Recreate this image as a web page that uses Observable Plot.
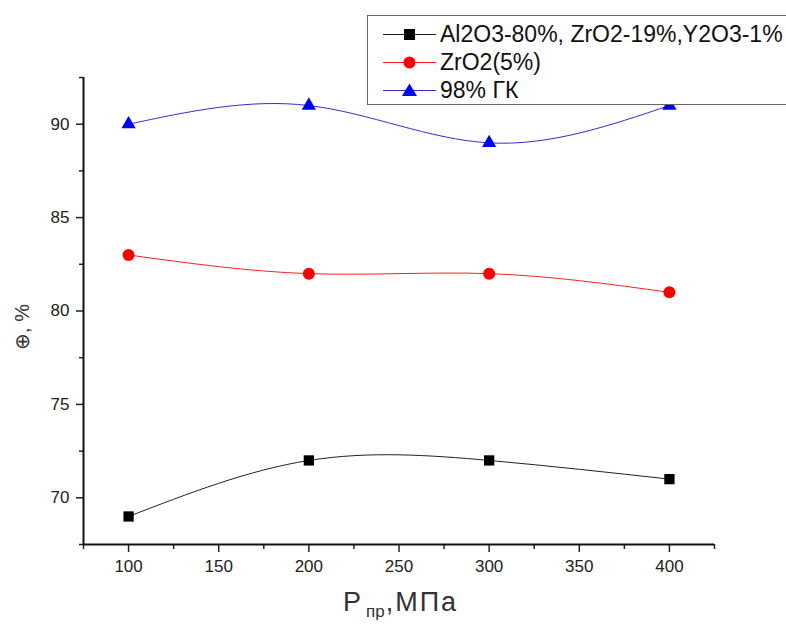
<!DOCTYPE html>
<html>
<head>
<meta charset="utf-8">
<script src="https://cdn.jsdelivr.net/npm/d3@7"></script>
<script src="https://cdn.jsdelivr.net/npm/@observablehq/plot@0.6"></script>
<style>
  html, body { margin: 0; padding: 0; background: #fff; overflow: hidden; }
  #wrap { position: relative; width: 786px; height: 626px; overflow: hidden; font-family: "Liberation Sans", Arial, sans-serif; }
  #legend { position: absolute; left: 367px; top: 15px; width: 440px; height: 88px; border: 1px solid #666; background: #fff; }
  .row { position: absolute; left: 0; height: 28px; display: flex; align-items: center; font-size: 23px; color: #111; white-space: nowrap; }
  .row svg { margin-left: 15px; margin-right: 4px; }
  #xlabel { position: absolute; top: 587px; left: 343px; white-space: nowrap; font-size: 27px; letter-spacing: 2px; color: #333; }
  #xlabel sub { font-size: 17px; vertical-align: -6px; margin-left: 3px; letter-spacing: 0; margin-right: 1px; }
</style>
</head>
<body>
<div id="wrap"></div>
<script>
const pressure = [100, 200, 300, 400];
const alumina = [69, 72, 72, 71];
const zro2 = [83, 82, 82, 81];
const gk = [90, 91, 89, 91];
const seriesNames = ["Al2O3-80%, ZrO2-19%,Y2O3-1%", "ZrO2(5%)", "98% ГК"];
const seriesValues = [alumina, zro2, gk];
const lineColors = ["#222222", "#ff2020", "#3030d0"];
const markColors = ["#000000", "#ff0000", "#0000ff"];
const symbols = ["square", "circle", "triangle"];
const xTicks = [100, 150, 200, 250, 300, 350, 400];
const xMinor = [75, 125, 175, 225, 275, 325, 375, 425];
const yTicks = [70, 75, 80, 85, 90];
const yMinor = [67.5, 72.5, 77.5, 82.5, 87.5, 92.5];
const xLabelMain = "P";
const xLabelSub = "пр";
const xLabelRest = ",МПа";
const yLabel = "⊕, %";

const rows = [];
seriesValues.forEach((vals, i) => {
  pressure.forEach((p, j) => rows.push({series: i, p, v: vals[j]}));
});

const marks = [];
seriesValues.forEach((vals, i) => {
  const d = rows.filter(r => r.series === i);
  marks.push(Plot.line(d, {x: "p", y: "v", curve: "natural", stroke: lineColors[i], strokeWidth: 1}));
  marks.push(Plot.dot(d, {x: "p", y: "v", symbol: () => symbols[i], fill: markColors[i], stroke: "none", r: i === 2 ? 5.3 : (i === 0 ? 5.8 : 6)}));
});

const chart = Plot.plot({
  width: 786,
  height: 626,
  marginLeft: 83,
  marginRight: 72,
  marginTop: 77,
  marginBottom: 82,
  style: {fontFamily: "'Liberation Sans', Arial, sans-serif", fontSize: "17px", color: "#222", background: "#fff"},
  x: {domain: [75, 425]},
  y: {domain: [67.5, 92.5]},
  marks: [
    Plot.axisX(xTicks, {tickSize: 8, tickPadding: 7, strokeWidth: 1.5, label: null}),
    Plot.axisX(xMinor, {tickSize: 5, strokeWidth: 1.5, tickFormat: () => "", label: null}),
    Plot.axisY(yTicks, {tickSize: 7, tickPadding: 7, strokeWidth: 1.5, label: null}),
    Plot.axisY(yMinor, {tickSize: 4, strokeWidth: 1.5, tickFormat: () => "", label: null}),
    Plot.ruleY([67.5], {strokeWidth: 2, stroke: "#111"}),
    Plot.ruleX([75], {strokeWidth: 2, stroke: "#111"}),
    ...marks
  ]
});

const wrap = document.getElementById("wrap");
wrap.appendChild(chart);

// y axis label (rotated)
d3.select(chart).append("text")
  .attr("transform", "translate(29,327) rotate(-90)")
  .attr("text-anchor", "middle")
  .attr("fill", "#333")
  .style("font-size", "20px")
  .text(yLabel);

// x axis label with subscript
const xl = document.createElement("div");
xl.id = "xlabel";
xl.innerHTML = `${xLabelMain}<sub>${xLabelSub}</sub>${xLabelRest}`;
wrap.appendChild(xl);

// legend
const legend = document.createElement("div");
legend.id = "legend";
const symPaths = {
  square: '<rect x="21" y="8" width="11" height="11"/>',
  circle: '<circle cx="26.5" cy="13.5" r="6"/>',
  triangle: '<path d="M26.5 6.5 L34 19 L19 19 Z"/>'
};
seriesNames.forEach((name, i) => {
  const r = document.createElement("div");
  r.className = "row";
  r.style.top = (4 + i * 28) + "px";
  r.innerHTML = `<svg width="53" height="27"><line x1="0" x2="53" y1="13.5" y2="13.5" stroke="${lineColors[i]}" stroke-width="1"/><g fill="${markColors[i]}">${symPaths[symbols[i]]}</g></svg><span>${name}</span>`;
  legend.appendChild(r);
});
wrap.appendChild(legend);
</script>
</body>
</html>
